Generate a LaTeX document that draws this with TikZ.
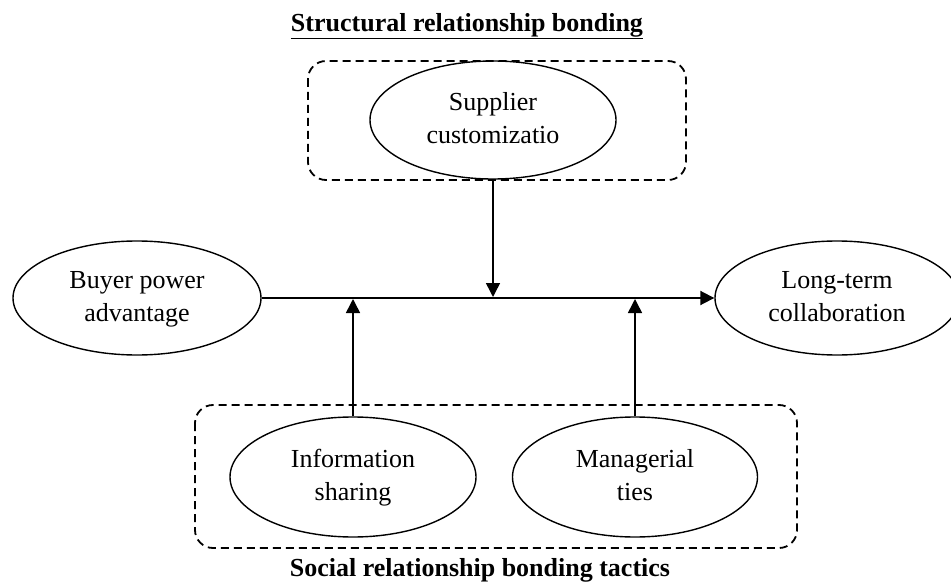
\documentclass[tikz,border=0pt]{standalone}
\usepackage{fontspec}
\setmainfont{Liberation Serif}
\usetikzlibrary{shapes.geometric,arrows.meta}
\tikzset{
  oval/.style={ellipse, draw, line width=1.4pt, inner sep=0pt, align=center,
    font=\fontsize{26}{33}\selectfont},
  groupbox/.style={draw, dashed, dash pattern=on 8pt off 5pt, line width=1.8pt, rounded corners=18pt},
  conn/.style={line width=1.5pt, shorten >=1pt, -{Triangle[length=14pt,width=14pt]}},
  mainconn/.style={line width=1.9pt, -{Triangle[length=14pt,width=14pt]}},
  caption/.style={font=\fontsize{26}{30}\selectfont\bfseries}
}
\begin{document}
\begin{tikzpicture}[x=1pt,y=-1pt]
\useasboundingbox (0,0) rectangle (951,583);
% group boxes
\draw[groupbox] (308,61) rectangle (686,180);
\draw[groupbox] (195,405) rectangle (797,548);
% titles
\node[caption] (ttop) at (467,26) {\underline{Structural relationship bonding}};
\node[caption] (tbot) at (480,570) {Social relationship bonding tactics};
% ellipses
\node[oval, minimum width=248pt, minimum height=114pt] (buyer) at (137,298) {\strut Buyer power\\\strut advantage};
\node[oval, minimum width=244pt, minimum height=114pt] (ltc) at (837,298) {\strut Long-term\\\strut collaboration};
\node[oval, minimum width=246pt, minimum height=118pt] (supp) at (493,120) {\strut Supplier\\\strut customizatio};
\node[oval, minimum width=246pt, minimum height=120pt] (info) at (353,477) {\strut Information\\\strut sharing};
\node[oval, minimum width=245pt, minimum height=120pt] (mgr) at (635,477) {\strut Managerial\\\strut ties};
% junctions on the main path
\coordinate (jsupp) at (supp.south |- buyer.east);
\coordinate (jinfo) at (info.north |- buyer.east);
\coordinate (jmgr) at (mgr.north |- buyer.east);
% connectors
\draw[mainconn] (buyer.east) -- (ltc.west);
\draw[conn] (supp.south) -- (jsupp);
\draw[conn] (info.north) -- (jinfo);
\draw[conn] (mgr.north) -- (jmgr);
\end{tikzpicture}
\end{document}
